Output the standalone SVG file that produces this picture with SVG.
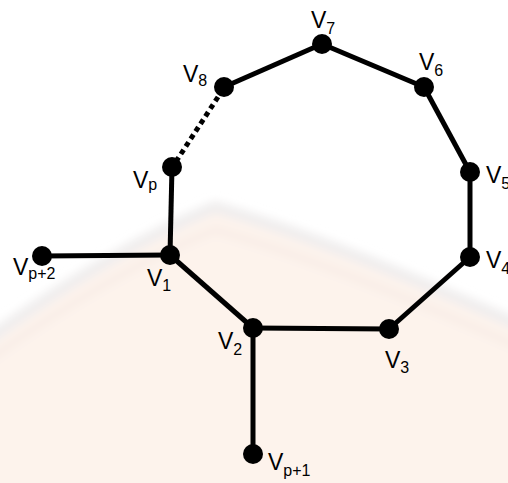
<svg xmlns="http://www.w3.org/2000/svg" width="508" height="483" viewBox="0 0 508 483">
  <defs>
    <filter id="soft" x="-10%" y="-10%" width="120%" height="120%">
      <feGaussianBlur stdDeviation="4"/>
    </filter>
  </defs>
  <style>
    .edge { stroke: #000; stroke-width: 5; fill: none; stroke-linecap: butt; }
    .dotted { stroke-dasharray: 5 4; }
    .node { fill: #000; }
    .lbl { font-family: "Liberation Sans", Arial, sans-serif; font-size: 23px; fill: #000; }
    .sub { font-size: 16px; }
  </style>

  <rect width="508" height="483" fill="#fff"/>

  <!-- faint background seal -->
  <g id="seal" filter="url(#soft)">
    <path d="M -20 345 Q 110 250 215 207 Q 330 240 530 330 L 530 500 L -20 500 Z" fill="#fdf3ec"/>
    <path d="M -20 345 Q 110 250 215 207 Q 330 240 530 330" fill="none" stroke="#f0eeee" stroke-width="12"/>
    <path d="M -20 366 Q 110 272 215 230 Q 330 262 530 352" fill="none" stroke="#f6ebe4" stroke-width="5"/>
  </g>

  <g id="connectors">
    <line class="edge" x1="322" y1="44" x2="224" y2="87"/>
    <line class="edge" x1="322" y1="44" x2="424" y2="87"/>
    <line class="edge" x1="424" y1="87" x2="470" y2="172"/>
    <line class="edge" x1="470" y1="172" x2="470" y2="257"/>
    <line class="edge" x1="470" y1="257" x2="389" y2="329"/>
    <line class="edge" x1="389" y1="329" x2="253" y2="328"/>
    <line class="edge" x1="253" y1="328" x2="170" y2="255"/>
    <line class="edge" x1="253" y1="328" x2="253" y2="454"/>
    <line class="edge" x1="170" y1="255" x2="42" y2="256"/>
    <line class="edge" x1="170" y1="255" x2="172" y2="167"/>
    <line class="edge dotted" x1="218" y1="97" x2="177" y2="160"/>
  </g>

  <g id="v7"><circle class="node" cx="322" cy="44" r="10"/><text class="lbl" x="311" y="28">V<tspan class="sub" dy="6">7</tspan></text></g>
  <g id="v8"><circle class="node" cx="224" cy="87" r="10"/><text class="lbl" x="183" y="82">V<tspan class="sub" dy="4">8</tspan></text></g>
  <g id="v6"><circle class="node" cx="424" cy="87" r="10"/><text class="lbl" x="419" y="70">V<tspan class="sub" dy="6">6</tspan></text></g>
  <g id="v5"><circle class="node" cx="470" cy="172" r="10"/><text class="lbl" x="486" y="183">V<tspan class="sub" dy="6">5</tspan></text></g>
  <g id="v4"><circle class="node" cx="470" cy="257" r="10"/><text class="lbl" x="486" y="268">V<tspan class="sub" dy="6">4</tspan></text></g>
  <g id="vp"><circle class="node" cx="172" cy="167" r="10"/><text class="lbl" x="133" y="188">V<tspan class="sub" dy="2">p</tspan></text></g>
  <g id="vp2"><circle class="node" cx="42" cy="256" r="10"/><text class="lbl" x="13" y="275">V<tspan class="sub" dy="4">p+2</tspan></text></g>
  <g id="v1"><circle class="node" cx="170" cy="255" r="10"/><text class="lbl" x="147" y="286">V<tspan class="sub" dy="5">1</tspan></text></g>
  <g id="v2"><circle class="node" cx="253" cy="328" r="10"/><text class="lbl" x="218" y="349">V<tspan class="sub" dy="6">2</tspan></text></g>
  <g id="v3"><circle class="node" cx="389" cy="329" r="10"/><text class="lbl" x="385" y="368">V<tspan class="sub" dy="5">3</tspan></text></g>
  <g id="vp1"><circle class="node" cx="253" cy="454" r="10"/><text class="lbl" x="268" y="470">V<tspan class="sub" dy="6">p+1</tspan></text></g>
</svg>
